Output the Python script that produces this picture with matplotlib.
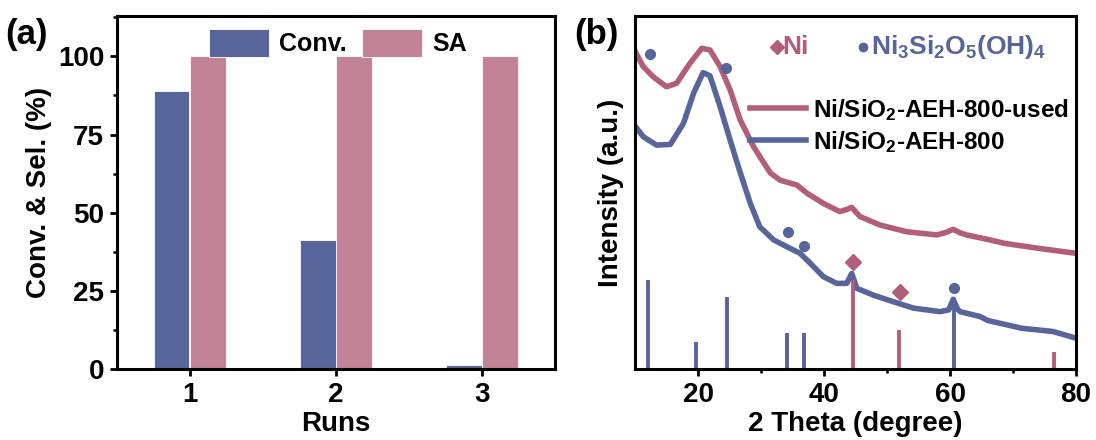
import numpy as np
import matplotlib
matplotlib.use('Agg')
import matplotlib.pyplot as plt

plt.rcParams['font.family'] = ['Liberation Sans', 'DejaVu Sans']
plt.rcParams['font.weight'] = 'bold'
plt.rcParams['axes.labelweight'] = 'bold'
plt.rcParams['mathtext.fontset'] = 'custom'
plt.rcParams['mathtext.rm'] = 'Liberation Sans:bold'
plt.rcParams['mathtext.default'] = 'rm'

# couleurs
bleu = '#58659b'
rose = '#c28396'
rouge = '#b45d78'

# ---- données (a)
runs = [1, 2, 3]
conv = [89.0, 41.3, 1.5]
sa = [100, 100, 100]

# ---- données (b) : courbes
theta_used = [10.0, 11.3, 12.9, 15.0, 16.6, 18.7, 20.6, 21.9, 23.5, 25.1, 26.7, 28.8, 30.4,
              31.5, 33.0, 35.7, 37.3, 39.9, 42.5, 43.6, 44.4, 45.7, 48.9, 53.1, 57.9, 59.5,
              60.5, 61.6, 62.6, 66.3, 68.7, 74.1, 80.0]
int_used = [90.0, 85.6, 82.7, 79.9, 80.9, 86.5, 90.8, 90.3, 85.6, 79.0, 70.5, 63.0, 58.5,
            55.5, 53.5, 52.1, 49.8, 46.9, 44.6, 45.2, 45.8, 43.2, 40.8, 38.9, 38.0, 38.8,
            39.6, 38.6, 38.0, 36.6, 35.6, 34.2, 32.8]

theta_fresh = [10.0, 11.3, 13.4, 15.6, 17.7, 19.3, 20.8, 21.9, 23.5, 25.1, 26.4, 28.3, 29.8,
               32.0, 34.6, 36.2, 37.8, 39.9, 42.0, 43.6, 44.4, 45.2, 47.8, 51.0, 54.2, 58.4,
               59.8, 60.5, 61.2, 61.6, 64.8, 66.0, 71.4, 76.3, 80.0]
int_fresh = [68.8, 65.8, 63.4, 63.6, 69.6, 78.1, 83.9, 83.0, 74.3, 64.8, 57.3, 46.9, 40.3,
             36.6, 34.2, 32.8, 30.0, 26.2, 24.3, 24.3, 27.1, 22.9, 21.0, 19.1, 17.3, 16.3,
             16.8, 19.8, 17.0, 16.3, 14.9, 13.8, 11.6, 10.7, 8.8]

# raies de référence
pos_silicate = [12.1, 19.7, 24.6, 34.2, 36.8, 60.6]
haut_silicate = [25.3, 7.8, 20.4, 10.4, 10.4, 20.1]
pos_ni = [44.6, 51.9, 76.5]
haut_ni = [25.3, 11.1, 5.0]

# symboles d'indexation
dots_x = [12.3, 24.4, 34.3, 36.8, 60.6]
dots_y = [89.1, 85.3, 38.7, 35.0, 23.1]
diam_x = [44.6, 52.0]
diam_y = [30.3, 21.8]

fig = plt.figure(figsize=(10.96, 4.4), dpi=100)
ax1 = fig.add_axes([0.1065, 0.1607, 0.3999, 0.8036])
ax2 = fig.add_axes([0.5794, 0.1607, 0.4024, 0.8036])

for ax in (ax1, ax2):
    for s in ax.spines.values():
        s.set_linewidth(2.2)
    ax.tick_params(which='major', direction='out', length=5, width=2, labelsize=20, pad=4)
    ax.tick_params(which='minor', direction='out', length=3, width=1.8)

# ---- panneau (a)
x = np.array(runs)
w = 0.245
ax1.bar(x - 0.125, conv, w, color=bleu, edgecolor='white', linewidth=0.6, label='Conv.')
ax1.bar(x + 0.125, sa, w, color=rose, edgecolor='white', linewidth=0.6, label='SA')
ax1.set_xlim(0.5, 3.5)
ax1.set_ylim(0, 113)
ax1.set_xticks(runs)
ax1.set_yticks([0, 25, 50, 75, 100])
ax1.set_yticks([12.5, 37.5, 62.5, 87.5, 112.5], minor=True)
ax1.set_xlabel('Runs', fontsize=20, labelpad=2)
ax1.set_ylabel('Conv. & Sel. (%)', fontsize=20, labelpad=4)
ax1.legend(loc='upper center', ncol=2, frameon=False, fontsize=18, handlelength=2.4,
           handleheight=1.3, handletextpad=0.4, columnspacing=0.6, borderaxespad=0.15,
           bbox_to_anchor=(0.505, 1.0))
fig.text(0.005, 0.90, '(a)', fontsize=25, fontweight='bold')

# ---- panneau (b)
ax2.plot(theta_used, int_used, color=rouge, lw=4, solid_joinstyle='round',
         label=r'Ni/SiO$_2$-AEH-800-used')
ax2.plot(theta_fresh, int_fresh, color=bleu, lw=4, solid_joinstyle='round',
         label=r'Ni/SiO$_2$-AEH-800')
ax2.vlines(pos_silicate, 0, haut_silicate, color=bleu, lw=2.8)
ax2.vlines(pos_ni, 0, haut_ni, color=rouge, lw=2.8)
ax2.plot(dots_x, dots_y, 'o', color=bleu, ms=7, ls='none')
ax2.plot(diam_x, diam_y, 'D', color=rouge, ms=8, ls='none')

ax2.set_xlim(10, 80)
ax2.set_ylim(0, 100)
ax2.set_xticks([20, 40, 60, 80])
ax2.set_xticks([30, 50, 70], minor=True)
ax2.set_yticks([])
ax2.set_xlabel('2 Theta (degree)', fontsize=20, labelpad=2)
ax2.set_ylabel('Intensity (a.u.)', fontsize=20, labelpad=8)
ax2.legend(loc='center left', bbox_to_anchor=(0.26, 0.689), frameon=False, fontsize=17.5,
           handlelength=2.3, handletextpad=0.3, labelspacing=0.25, borderpad=0, borderaxespad=0)

ax2.plot([32.5], [91.2], 'D', color=rouge, ms=7)
ax2.text(33.3, 91.2, 'Ni', color=rouge, fontsize=19, va='center')
ax2.plot([46.2], [91.2], 'o', color=bleu, ms=6)
ax2.text(47.4, 91.2, r'Ni$_3$Si$_2$O$_5$(OH)$_4$', color=bleu, fontsize=19, va='center')
fig.text(0.524, 0.90, '(b)', fontsize=25, fontweight='bold')

fig.savefig('out.png', dpi=100)
